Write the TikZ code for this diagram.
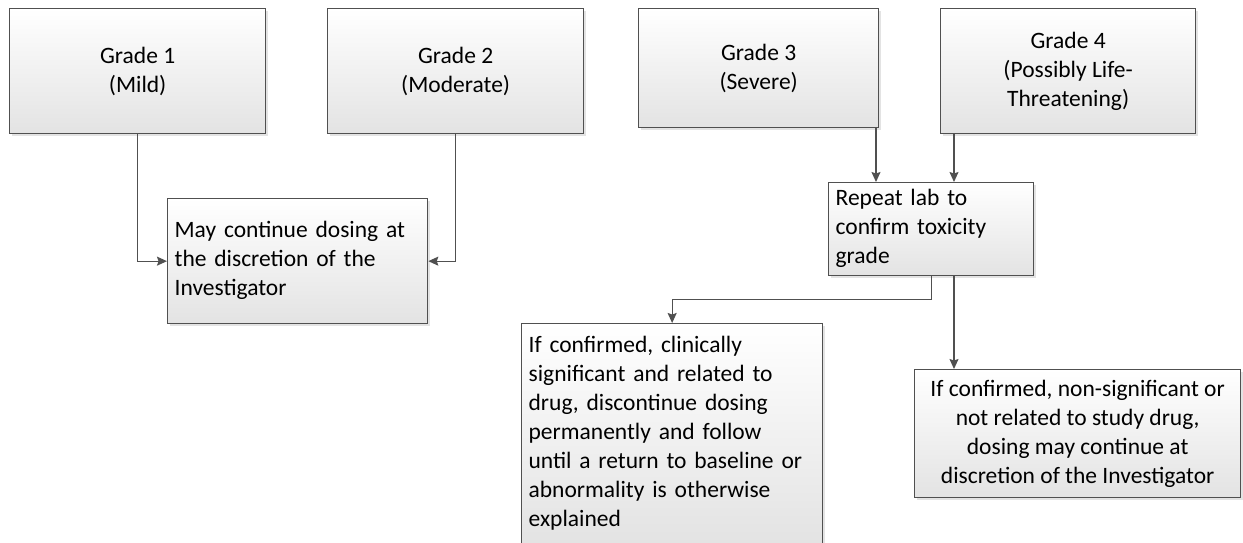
\documentclass[tikz,border=0pt]{standalone}
\usepackage{fontspec}
\setmainfont{Carlito}
\usetikzlibrary{arrows.meta,shadows,calc}
\definecolor{bordercol}{HTML}{505050}
\definecolor{linecol}{HTML}{505050}
\newcommand{\linesL}[1]{\begin{tabular}{@{}l@{}}#1\end{tabular}}
\tikzset{
  box/.style={draw=bordercol, line width=1.3pt, top color=white, bottom color=black!11,
    drop shadow={shadow xshift=2pt,shadow yshift=-2pt,fill=black!22},
    inner ysep=0pt, inner xsep=7pt, anchor=north west, font=\fontsize{23.5pt}{29pt}\selectfont},
  cbox/.style={box, align=center},
  lbox/.style={box, align=left},
  conn/.style={draw=linecol, line width=1.3pt, -{Stealth[length=10pt,width=9pt,inset=1.5pt]}}
}
\begin{document}
\begin{tikzpicture}
\useasboundingbox (0pt,0pt) rectangle (1243pt,-542pt);
\node[cbox, minimum width=256pt, minimum height=125pt] (g1) at (9pt,-8pt) {Grade 1\\(Mild)};
\node[cbox, minimum width=256pt, minimum height=125pt] (g2) at (327pt,-8pt) {Grade 2\\(Moderate)};
\node[cbox, minimum width=240pt, minimum height=119pt] (g3) at (638pt,-8pt) {Grade 3\\(Severe)};
\node[cbox, minimum width=255pt, minimum height=125pt] (g4) at (940pt,-8pt) {Grade 4\\(Possibly Life-\\Threatening)};
\node[lbox, minimum width=260pt, text width=246pt, minimum height=125pt] (mid) at (167pt,-198pt) {\linesL{May continue dosing at\\the discretion of the\\Investigator}};
\node[lbox, minimum width=205pt, text width=191pt, minimum height=93pt] (rep) at (828pt,-182pt) {\linesL{Repeat lab to\\confirm toxicity\\grade}};
\node[lbox, minimum width=301pt, text width=287pt, minimum height=220pt] (lb) at (521pt,-323pt) {\linesL{If confirmed, clinically\\significant and related to\\drug, discontinue dosing\\permanently and follow\\until a return to baseline or\\abnormality is otherwise\\explained}};
\node[cbox, minimum width=326pt, minimum height=128pt] (rb) at (914pt,-369pt) {If confirmed, non-significant or\\not related to study drug,\\dosing may continue at\\discretion of the Investigator};
\coordinate (x3) at (876pt,0pt);
\coordinate (x4) at (954pt,0pt);
\draw[conn] (g1.south) |- (mid.west);
\draw[conn] (g2.south) |- (mid.east);
\draw[conn] (g3.south -| x3) -- (rep.north -| x3);
\draw[conn] (g4.south -| x4) -- (rep.north -| x4);
\draw[conn] (rep.south) -- ++(0,-23pt) -| (lb.north);
\draw[conn] (rep.south -| x4) -- (rb.north -| x4);
\end{tikzpicture}
\end{document}
